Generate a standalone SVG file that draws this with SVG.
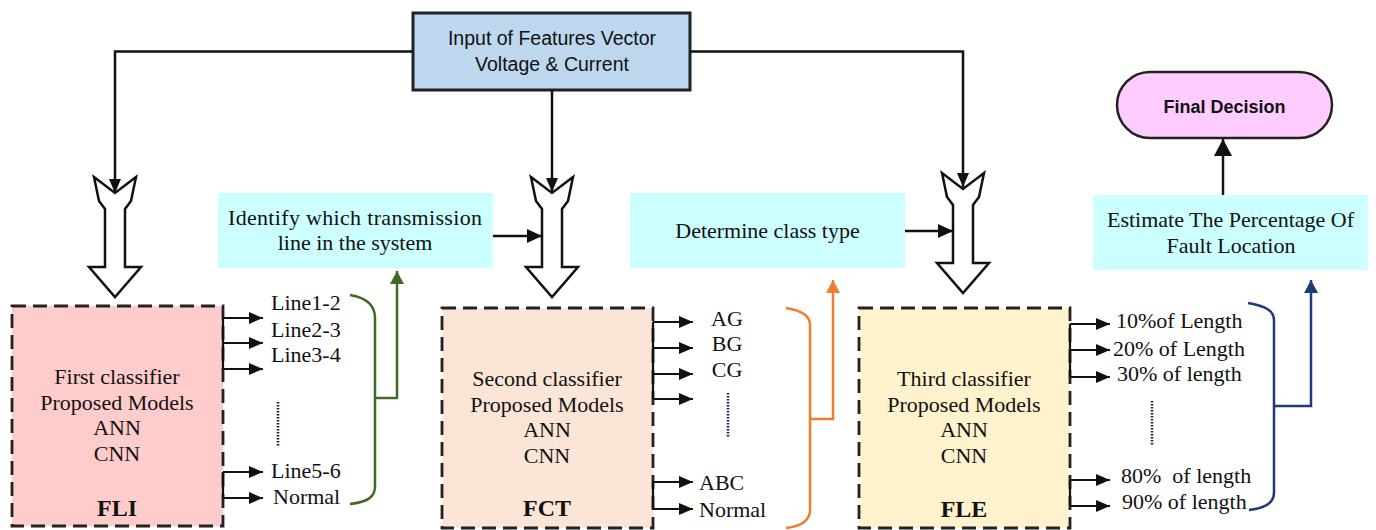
<svg xmlns="http://www.w3.org/2000/svg" width="1376" height="530" viewBox="0 0 1376 530">
<style>
.serif{font-family:"Liberation Serif","Times New Roman",serif;font-size:22px;fill:#111}
.sans{font-family:"Liberation Sans",Arial,sans-serif;fill:#111}
.mid{text-anchor:middle}
.bold{font-weight:bold}
.lbl{font-size:24px;font-weight:bold}
.cls{stroke:#222;stroke-width:2.8;stroke-dasharray:14 7}
.cyan{fill:#ccffff}
.blk{fill:none;stroke:#111;stroke-width:2.5}
.out{fill:none;stroke:#111;stroke-width:2.2}
.dots{fill:none;stroke:#1a1a50;stroke-width:2.6;stroke-dasharray:1.6 1.4}
.hollow{fill:#fff;stroke:#111;stroke-width:2.5;stroke-linejoin:miter}
</style>
<defs>
<marker id="ah" markerUnits="userSpaceOnUse" markerWidth="16" markerHeight="14" refX="15" refY="7" orient="auto"><path d="M0,0 L15,7 L0,14 z" fill="#111"/></marker>
<marker id="ahs" markerUnits="userSpaceOnUse" markerWidth="14" markerHeight="12" refX="14" refY="6" orient="auto"><path d="M0,0 L14,6 L0,12 z" fill="#111"/></marker>
<marker id="ahg" markerUnits="userSpaceOnUse" markerWidth="14" markerHeight="14" refX="13" refY="7" orient="auto"><path d="M0,0 L13,7 L0,14 z" fill="#3f6b26"/></marker>
<marker id="aho" markerUnits="userSpaceOnUse" markerWidth="14" markerHeight="14" refX="13" refY="7" orient="auto"><path d="M0,0 L13,7 L0,14 z" fill="#ed7d31"/></marker>
<marker id="ahn" markerUnits="userSpaceOnUse" markerWidth="14" markerHeight="14" refX="13" refY="7" orient="auto"><path d="M0,0 L13,7 L0,14 z" fill="#1f3a78"/></marker>
<marker id="ahb" markerUnits="userSpaceOnUse" markerWidth="18" markerHeight="18" refX="17" refY="9" orient="auto"><path d="M0,0 L17,9 L0,18 z" fill="#111"/></marker>
<path id="notched" d="M-21,0 L-16,24 L-10,32 L-10,90 L-26,90 L0,120 L26,90 L10,90 L10,32 L16,24 L21,0 L0,16 Z"/>
</defs>

<g id="input">
<rect x="413" y="13" width="277" height="77" fill="#bdd7ee" stroke="#222" stroke-width="3"/>
<text class="sans mid" x="552" y="45" font-size="19.5">Input of Features Vector</text>
<text class="sans mid" x="552" y="71" font-size="19.5">Voltage &amp; Current</text>
</g>

<g id="final">
<rect x="1117" y="72" width="215" height="66" rx="33" ry="33" fill="#ffccff" stroke="#222" stroke-width="2.5"/>
<text class="sans mid bold" x="1224.5" y="113" font-size="18">Final Decision</text>
</g>

<g id="hollow-arrows">
<use href="#notched" class="hollow" transform="translate(115,177)"/>
<use href="#notched" class="hollow" transform="translate(552,177)"/>
<use href="#notched" class="hollow" transform="translate(963,173)"/>
</g>

<g id="task1">
<rect class="cyan" x="218" y="193" width="275" height="75"/>
<text class="serif mid" x="355" y="225" textLength="254" lengthAdjust="spacing">Identify which transmission</text>
<text class="serif mid" x="355" y="250">line in the system</text>
</g>
<g id="task2">
<rect class="cyan" x="630" y="193" width="275" height="75"/>
<text class="serif mid" x="767.5" y="238">Determine class type</text>
</g>
<g id="task3">
<rect class="cyan" x="1093" y="195" width="275" height="75"/>
<text class="serif mid" x="1230.5" y="227">Estimate The Percentage Of</text>
<text class="serif mid" x="1231" y="253">Fault Location</text>
</g>

<g id="FLI">
<rect class="cls" x="12" y="306" width="211" height="220" fill="#ffcccc"/>
<text class="serif mid" x="117" y="384">First classifier</text>
<text class="serif mid" x="117" y="410">Proposed Models</text>
<text class="serif mid" x="117" y="435">ANN</text>
<text class="serif mid" x="117" y="461">CNN</text>
<text class="serif mid lbl" x="117" y="516">FLI</text>
</g>
<g id="FCT">
<rect class="cls" x="442" y="308" width="211" height="220" fill="#fbe5d6"/>
<text class="serif mid" x="547" y="386">Second classifier</text>
<text class="serif mid" x="547" y="412">Proposed Models</text>
<text class="serif mid" x="547" y="437">ANN</text>
<text class="serif mid" x="547" y="463">CNN</text>
<text class="serif mid lbl" x="547" y="516">FCT</text>
</g>
<g id="FLE">
<rect class="cls" x="859" y="308" width="211" height="220" fill="#fff2cc"/>
<text class="serif mid" x="964" y="386">Third classifier</text>
<text class="serif mid" x="964" y="412">Proposed Models</text>
<text class="serif mid" x="964" y="437">ANN</text>
<text class="serif mid" x="964" y="463">CNN</text>
<text class="serif mid lbl" x="964" y="517">FLE</text>
</g>

<g id="outputs">
<text class="serif" x="271" y="310">Line1-2</text>
<text class="serif" x="271" y="337">Line2-3</text>
<text class="serif" x="271" y="362">Line3-4</text>
<text class="serif" x="271" y="478">Line5-6</text>
<text class="serif" x="273" y="504">Normal</text>
<text class="serif mid" x="727" y="326">AG</text>
<text class="serif mid" x="727" y="351">BG</text>
<text class="serif mid" x="727" y="377">CG</text>
<text class="serif" x="699" y="490">ABC</text>
<text class="serif" x="699" y="517">Normal</text>
<text class="serif" x="1116" y="328">10%of Length</text>
<text class="serif" x="1113" y="356">20% of Length</text>
<text class="serif" x="1117" y="381">30% of length</text>
<text class="serif" x="1121" y="483" xml:space="preserve">80%  of length</text>
<text class="serif" x="1122" y="509">90% of length</text>
<path class="dots" d="M278,402 V447 M728,393 V437 M1152,401 V445"/>
</g>

<g id="connectors">
<path class="blk" d="M413,51.5 H115 V193" marker-end="url(#ahs)"/>
<path class="blk" d="M552,90 V192" marker-end="url(#ahs)"/>
<path class="blk" d="M690,51.5 H963 V187" marker-end="url(#ahs)"/>
<path class="blk" d="M493,236 H542" stroke-width="3.5" marker-end="url(#ah)"/>
<path class="blk" d="M905,231 H953" stroke-width="3.5" marker-end="url(#ah)"/>
<path class="blk" d="M1223,195 V139" stroke-width="3.5" marker-end="url(#ahb)"/>

<path class="out" d="M223,318 V369 M223,472 V498"/>
<path class="out" d="M223,318 H263" marker-end="url(#ahs)"/>
<path class="out" d="M223,343 H263" marker-end="url(#ahs)"/>
<path class="out" d="M223,369 H263" marker-end="url(#ahs)"/>
<path class="out" d="M223,472 H263" marker-end="url(#ahs)"/>
<path class="out" d="M223,498 H263" marker-end="url(#ahs)"/>
<path class="out" d="M653,322 V399 M653,482 V509"/>
<path class="out" d="M653,322 H693" marker-end="url(#ahs)"/>
<path class="out" d="M653,348 H693" marker-end="url(#ahs)"/>
<path class="out" d="M653,374 H693" marker-end="url(#ahs)"/>
<path class="out" d="M653,399 H693" marker-end="url(#ahs)"/>
<path class="out" d="M653,482 H693" marker-end="url(#ahs)"/>
<path class="out" d="M653,509 H693" marker-end="url(#ahs)"/>
<path class="out" d="M1070,324 V377 M1070,480 V506"/>
<path class="out" d="M1070,324 H1110" marker-end="url(#ahs)"/>
<path class="out" d="M1070,350 H1110" marker-end="url(#ahs)"/>
<path class="out" d="M1070,377 H1110" marker-end="url(#ahs)"/>
<path class="out" d="M1070,480 H1110" marker-end="url(#ahs)"/>
<path class="out" d="M1070,506 H1110" marker-end="url(#ahs)"/>

<path d="M350,295 C368,298 375,306 375,318 V486 C375,497 368,502 350,504" fill="none" stroke="#3f6b26" stroke-width="2.5"/>
<path d="M375,398 H397 V271" fill="none" stroke="#3f6b26" stroke-width="2.5" marker-end="url(#ahg)"/>
<path d="M786,308 C803,311 810,316 810,325 V510 C810,520 803,526 786,528" fill="none" stroke="#ed7d31" stroke-width="2.5"/>
<path d="M810,419 H833 V280" fill="none" stroke="#ed7d31" stroke-width="2.5" marker-end="url(#aho)"/>
<path d="M1248,303 C1266,306 1274,311 1274,320 V493 C1274,502 1266,508 1249,510" fill="none" stroke="#1f3a78" stroke-width="2.5"/>
<path d="M1274,406 H1311 V280" fill="none" stroke="#1f3a78" stroke-width="2.5" marker-end="url(#ahn)"/>
</g>
</svg>
